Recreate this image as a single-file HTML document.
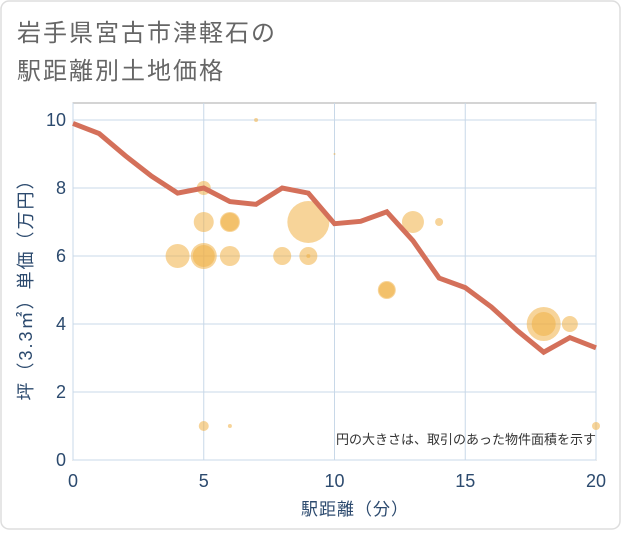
<!DOCTYPE html>
<html><head><meta charset="utf-8"><style>
body{margin:0;background:#fff;}
svg text{font-family:"Liberation Sans","Noto Sans CJK JP",sans-serif;}
</style></head><body>
<svg width="621" height="530" xmlns="http://www.w3.org/2000/svg">
<rect x="1" y="1" width="619" height="528" rx="8" fill="#fff" stroke="#ddd" stroke-width="1.5"/>
<text x="17" y="41" font-size="24" fill="#666" letter-spacing="2">岩手県宮古市津軽石の</text>
<text x="17" y="79" font-size="24" fill="#666" letter-spacing="2">駅距離別土地価格</text>
<g id="grid"></g>
<g id="bubbles"></g>
<g id="line"></g>
<g id="axes"></g>
<text x="596" y="444" font-size="13" fill="#333" text-anchor="end">円の大きさは、取引のあった物件面積を示す</text>
<text x="355" y="515" font-size="17" fill="#2c4a6e" text-anchor="middle" letter-spacing="1">駅距離（分）</text>
<text transform="translate(32,285) rotate(-90)" font-size="18" fill="#2c4a6e" text-anchor="middle" letter-spacing="2">坪（3.3㎡）単価（万円）</text>
</svg>
<script>
const xTicks=[0,5,10,15,20];
const yTicks=[0,2,4,6,8,10];
const lineX=[0,1,2,3,4,5,6,7,8,9,10,11,12,13,14,15,16,17,18,19,20];
const lineY=[9.9,9.6,8.95,8.35,7.85,8.0,7.6,7.52,8.0,7.85,6.95,7.02,7.3,6.45,5.35,5.07,4.5,3.8,3.17,3.6,3.3];
const bubX=[4,5,5,5,5,6,6,6,7,8,9,9,9,10,12,12,13,14,18,18,19,5,6,20];
const bubY=[6,6,6,7,8,7,7,6,10,6,7,6,6,9,5,5,7,7,4,4,4,1,1,1];
const bubR=[12,13,11,10,7,10,9,10,2,9,21,9,2,1,9,8,11,4,17,12,8,5,2,4];
const NS="http://www.w3.org/2000/svg";
const X0=73,X1=596,Y0=460,Y1=120,TOP=103;
const sx=v=>X0+(v-0)/20*(X1-X0);
const sy=v=>Y0-(v-0)/10*(Y0-Y1);
function mk(tag,attrs,parent){const e=document.createElementNS(NS,tag);for(const k in attrs)e.setAttribute(k,attrs[k]);parent.appendChild(e);return e;}
const grid=document.getElementById('grid'),axes=document.getElementById('axes');
const frame=mk('rect',{x:X0,y:TOP,width:X1-X0,height:Y0-TOP,fill:'none',stroke:'#aaa','stroke-width':1},grid);


xTicks.forEach(t=>{
 const l=mk('line',{x1:sx(t),x2:sx(t),y1:TOP,y2:Y0,stroke:'#c8d8e8','stroke-width':1},grid);
 
 
 const tx=mk('text',{x:sx(t),y:487,'font-size':18,fill:'#2c4a6e','text-anchor':'middle'},axes);
 tx.textContent=t;
 
 
});
yTicks.forEach(t=>{
 const l=mk('line',{x1:X0,x2:X1,y1:sy(t),y2:sy(t),stroke:'#c8d8e8','stroke-width':1},grid);
 
 
 const tx=mk('text',{x:66,y:sy(t)+6,'font-size':18,fill:'#2c4a6e','text-anchor':'end'},axes);
 tx.textContent=t;
 
 
});
const bg=document.getElementById('bubbles');
bubX.forEach((x,i)=>{
 const c=mk('circle',{cx:sx(x),cy:sy(bubY[i]),r:bubR[i],fill:'rgb(240,176,70)','fill-opacity':0.55},bg);
 
 
});
const pts=lineX.map((x,i)=>sx(x)+','+sy(lineY[i])).join(' ');
const pl=mk('polyline',{points:pts,fill:'none',stroke:'#d4705a','stroke-width':5,'stroke-linejoin':'miter'},document.getElementById('line'));


</script>
</body></html>
